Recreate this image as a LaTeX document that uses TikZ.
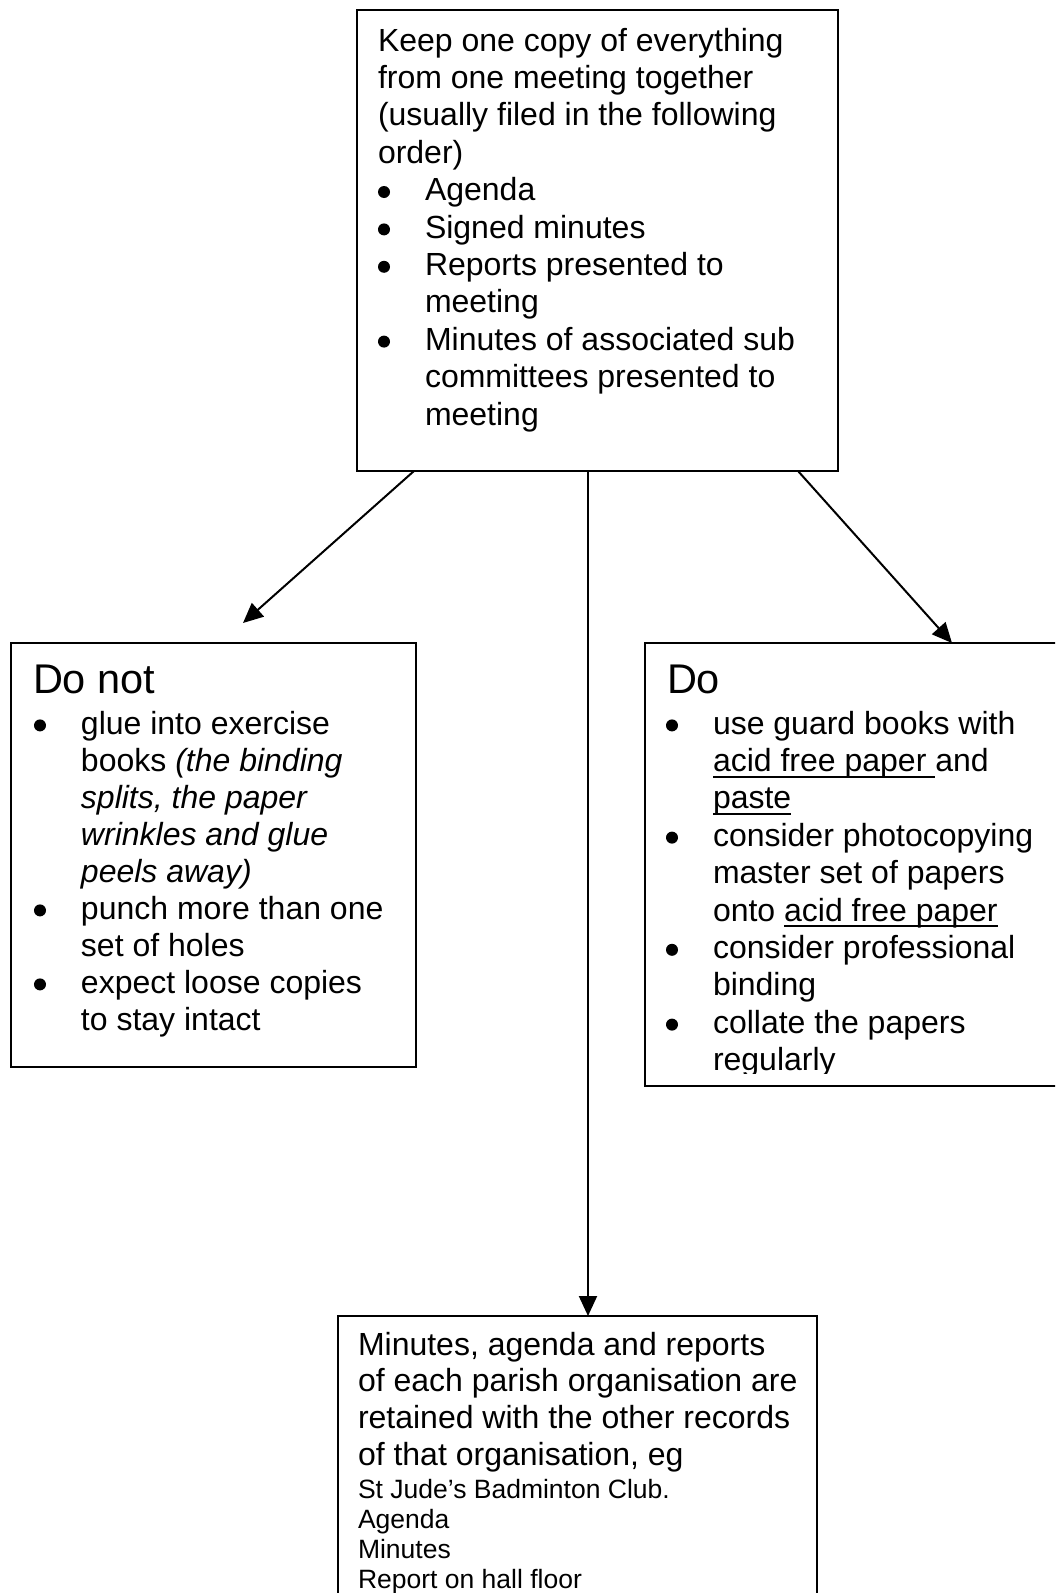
\documentclass[tikz,border=0pt]{standalone}
\usepackage{fontspec}
\setmainfont{Liberation Sans}
\usetikzlibrary{arrows.meta}
\newcommand\bitem{\makebox[47pt][l]{\raisebox{2.6pt}{\tikz[x=1pt,y=1pt]\fill (6,6) circle (6pt);}}}
\newcommand\iitem{\hspace*{47pt}}
\newcommand\myul[1]{\setbox0\hbox{#1}\rlap{\rule[-6.2pt]{\wd0}{2pt}}\box0}
\tikzset{
  box/.style={draw, line width=2pt, rectangle, inner sep=0pt, outer sep=0pt, anchor=north west},
  txt/.style={anchor=base west, inner sep=0pt, outer sep=0pt},
  arr/.style={line width=2pt, -{Triangle[length=20pt,width=18pt]}}
}
\begin{document}
\begin{tikzpicture}[x=1pt,y=-1pt]
\fill[white] (0,0) rectangle (1055,1593);
\clip (0,0) rectangle (1055,1593);
% boxes
\node[box, minimum width=481pt, minimum height=461pt] (top) at (357,10) {};
\node[box, minimum width=405pt, minimum height=424pt] (left) at (11,643) {};
\node[box, minimum width=430pt, minimum height=443pt] (right) at (645,643) {};
\node[box, minimum width=479pt, minimum height=320pt] (bottom) at (338,1316) {};
% texts
\node[txt] (toptext) at (378,51) {\parbox[t]{600pt}{\fontsize{32}{37.4}\selectfont
Keep one copy of everything\\
from one meeting together\\
(usually filed in the following\\
order)\\
\bitem Agenda\\
\bitem Signed minutes\\
\bitem Reports presented to\\
\iitem meeting\\
\bitem Minutes of associated sub\\
\iitem committees presented to\\
\iitem meeting}};
\node[txt] (lefthead) at (33,693) {\fontsize{41.5}{48}\selectfont Do not};
\node[txt] (lefttext) at (34,734) {\parbox[t]{600pt}{\fontsize{32}{37}\selectfont
\bitem glue into exercise\\
\iitem books \textit{(the binding}\\
\iitem \textit{splits, the paper}\\
\iitem \textit{wrinkles and glue}\\
\iitem \textit{peels away)}\\
\bitem punch more than one\\
\iitem set of holes\\
\bitem expect loose copies\\
\iitem to stay intact}};
\begin{scope}
\clip (645,643) rectangle (1055,1073);
\node[txt] (righthead) at (667,693) {\fontsize{41.5}{48}\selectfont Do};
\node[txt] (righttext) at (666,734) {\parbox[t]{600pt}{\fontsize{32}{37.4}\selectfont
\bitem use guard books with\\
\iitem \myul{acid free paper\ }and\\
\iitem \myul{paste}\\
\bitem consider photocopying\\
\iitem master set of papers\\
\iitem onto \myul{acid free paper}\\
\bitem consider professional\\
\iitem binding\\
\bitem collate the papers\\
\iitem regularly}};
\end{scope}
\node[txt] (bottomtext) at (358,1355) {\parbox[t]{600pt}{\fontsize{32}{36.7}\selectfont
Minutes, agenda and reports\\
of each parish organisation are\\
retained with the other records\\
of that organisation, eg\par\vspace{3pt}
\fontsize{26.5}{30}\selectfont
St Jude’s Badminton Club.\\
Agenda\\
Minutes\\
Report on hall floor}};
% connectors
\coordinate (ltip) at (243,623);
\draw[arr] ([xshift=57pt]top.south west) -- (ltip);
\draw[arr] ([xshift=231pt]top.south west) -- ([xshift=250pt]bottom.north west);
\draw[arr] ([xshift=441pt]top.south west) -- ([xshift=307pt]right.north west);
\end{tikzpicture}
\end{document}
